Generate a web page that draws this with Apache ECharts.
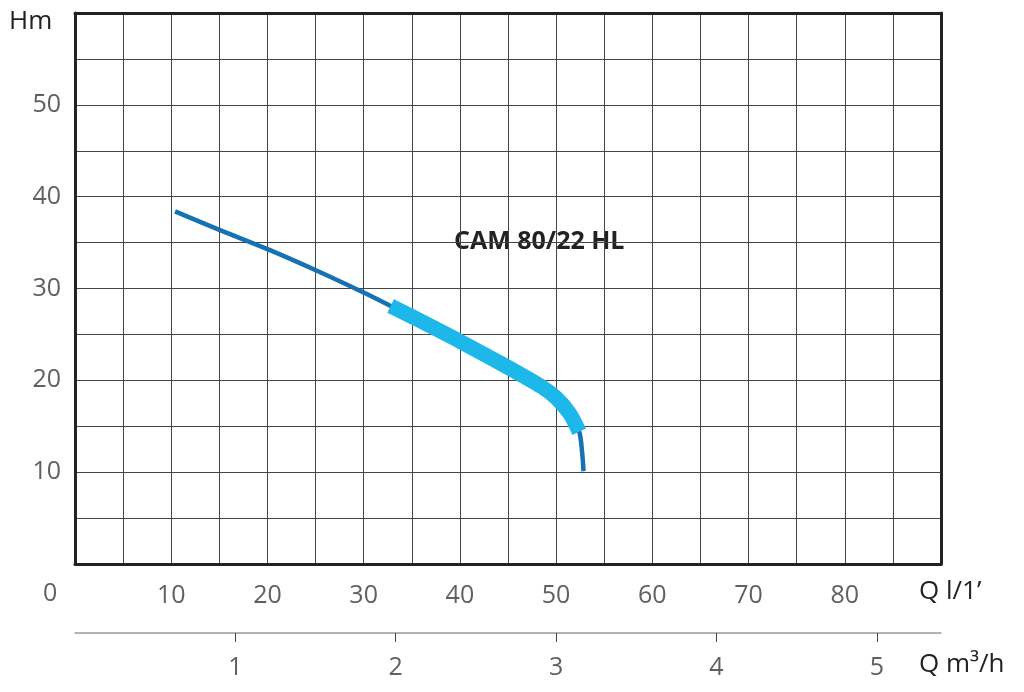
<!DOCTYPE html>
<html><head><meta charset="utf-8">
<script src="https://cdn.jsdelivr.net/npm/echarts@6/dist/echarts.min.js"></script>
<style>html,body{margin:0;padding:0;background:#fff}#c{width:1024px;height:692px}</style>
</head><body><div id="c"></div>
<script>
// Curve: flow Q (l/min) vs head H (m)
const flowLpm = [10.4, 15.2, 20.2, 25.2, 30.1, 32.8, 35.1, 40.1, 45.2, 48.5, 50.0, 51.4, 52.4, 52.7, 52.85];
const headM   = [38.4, 36.3, 34.2, 31.9, 29.5, 28.1, 26.9, 24.2, 21.3, 19.3, 18.1, 16.4, 14.4, 12.2, 10.1];
// recommended operating range (thick segment)
const opRange = [32.8, 52.4];
const xTicksLpm = [10, 20, 30, 40, 50, 60, 70, 80];
const yTicks = [10, 20, 30, 40, 50];
const xTicksM3h = [1, 2, 3, 4, 5];
const modelName = 'CAM 80/22 HL';

const full = flowLpm.map((q, i) => [q, headM[i]]);
const op = full.filter(p => p[0] >= opRange[0] && p[0] <= opRange[1]);

const font = 'Open Sans';
const labelStyle = {color: '#606060', fontSize: 25, fontFamily: font};
const chart = echarts.init(document.getElementById('c'));
chart.setOption({
  animation: false,
  grid: {left: 75, right: 83, top: 13, bottom: 128},
  xAxis: [
    {type: 'value', min: 0, max: 90, interval: 5, position: 'bottom',
     axisLine: {show: true, onZero: false, lineStyle: {color: '#222', width: 3}},
     axisTick: {show: false},
     splitLine: {show: true, lineStyle: {color: '#444', width: 1}},
     axisLabel: Object.assign({margin: 19, customValues: xTicksLpm}, labelStyle)},
    {type: 'value', min: 0, max: 90 * 60 / 1000, position: 'bottom', offset: 69, interval: 1,
     axisLine: {show: true, onZero: false, lineStyle: {color: '#999', width: 1.5}},
     axisTick: {show: true, length: 9, customValues: xTicksM3h, lineStyle: {color: '#444', width: 1}},
     splitLine: {show: false},
     axisLabel: Object.assign({margin: 22, customValues: xTicksM3h}, labelStyle)},
    {type: 'value', min: 0, max: 90, position: 'top',
     axisLine: {show: true, onZero: false, lineStyle: {color: '#222', width: 3}},
     axisTick: {show: false}, axisLabel: {show: false}, splitLine: {show: false}}
  ],
  yAxis: [
    {type: 'value', min: 0, max: 60, interval: 5, position: 'left',
     axisLine: {show: true, onZero: false, lineStyle: {color: '#222', width: 3}},
     axisTick: {show: false},
     splitLine: {show: true, lineStyle: {color: '#444', width: 1}},
     axisLabel: Object.assign({margin: 14, customValues: yTicks}, labelStyle)},
    {type: 'value', min: 0, max: 60, position: 'right',
     axisLine: {show: true, onZero: false, lineStyle: {color: '#222', width: 3}},
     axisTick: {show: false}, axisLabel: {show: false}, splitLine: {show: false}}
  ],
  series: [
    {type: 'line', data: full, smooth: 0.3, showSymbol: false, xAxisIndex: 0, yAxisIndex: 0,
     lineStyle: {color: '#1672b3', width: 4.5, cap: 'butt'}, z: 3},
    {type: 'line', data: op, smooth: 0.3, showSymbol: false, xAxisIndex: 0, yAxisIndex: 0,
     lineStyle: {color: '#1db7ea', width: 15, cap: 'butt'}, z: 4}
  ],
  graphic: [
    {type: 'text', left: 9, top: 9, style: {text: 'Hm', fill: '#222', fontSize: 26, fontFamily: font}},
    {type: 'text', left: 43, top: 581, style: {text: '0', fill: '#606060', fontSize: 25, fontFamily: font}},
    {type: 'text', left: 919, top: 579, style: {text: 'Q l/1\u2019', fill: '#222', fontSize: 26, fontFamily: font}},
    {type: 'text', left: 919, top: 652, style: {text: 'Q m\u00b3/h', fill: '#222', fontSize: 26, fontFamily: font}},
    {type: 'text', left: 454, top: 229, style: {text: modelName, fill: '#222', fontSize: 25, fontWeight: 'bold', fontFamily: font}}
  ]
});
</script></body></html>
